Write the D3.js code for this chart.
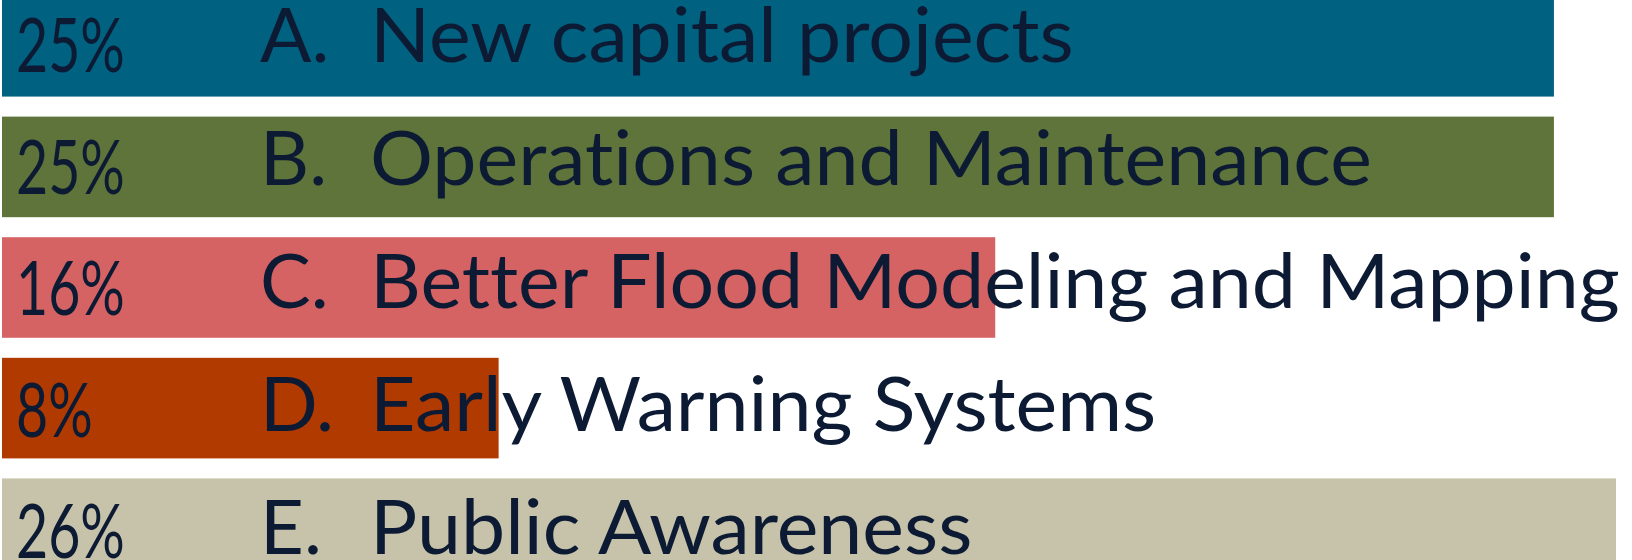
<!DOCTYPE html>
<html>
<head>
<meta charset="utf-8">
<script src="https://cdn.jsdelivr.net/npm/d3@7"></script>
<style>
  body { margin: 0; background: #fff; }
  text { font-family: Lato, "Open Sans", sans-serif; fill: #0c1b33; font-variant-ligatures: none; }
</style>
</head>
<body>
<div id="chart"></div>
<script>
var svgWidth = 1632;
var svgHeight = 560;

// chart data
var letters = ["A.", "B.", "C.", "D.", "E."];
var categories = [
  "New capital projects",
  "Operations and Maintenance",
  "Better Flood Modeling and Mapping",
  "Early Warning Systems",
  "Public Awareness"
];
var values = [25, 25, 16, 8, 26];
var valueLabels = ["25%", "25%", "16%", "8%", "26%"];
var colors = ["#006180", "#5e743a", "#d56363", "#b03a00", "#c7c3aa"];

var svg = d3.select("#chart")
  .append("svg")
  .attr("width", svgWidth)
  .attr("height", svgHeight);

// x scale for the bar lengths
var xScale = d3.scaleLinear()
  .domain([0, 26])
  .range([2, 1616]);

// bars sit in bands, top one slightly cut off
var yScale = d3.scaleBand()
  .domain(categories)
  .range([-4, 579])
  .paddingInner(0.166);

// text lines are spaced a bit wider than the bars
var nameY = d3.scalePoint().domain(categories).range([62, 554]);
var pctY = d3.scalePoint().domain(categories).range([72, 558]);

svg.selectAll("rect")
  .data(categories)
  .enter()
  .append("rect")
  .attr("x", xScale(0))
  .attr("y", d => yScale(d))
  .attr("width", (d, i) => xScale(values[i]) - xScale(0))
  .attr("height", yScale.bandwidth())
  .attr("fill", (d, i) => colors[i]);

// percentages, condensed
svg.selectAll(".pct")
  .data(categories)
  .enter()
  .append("text")
  .attr("class", "pct")
  .attr("transform", d => `translate(16, ${pctY(d)}) scale(0.73, 1)`)
  .attr("font-size", 76)
  .text((d, i) => valueLabels[i]);

// list letters
svg.selectAll(".letter")
  .data(categories)
  .enter()
  .append("text")
  .attr("class", "letter")
  .attr("x", 260)
  .attr("y", d => nameY(d))
  .attr("font-size", 76)
  .text((d, i) => letters[i]);

// category names, slightly widened
svg.selectAll(".name")
  .data(categories)
  .enter()
  .append("text")
  .attr("class", "name")
  .attr("transform", d => `translate(370, ${nameY(d)}) scale(1.038, 1)`)
  .attr("font-size", 76)
  .text(d => d);
</script>
</body>
</html>
